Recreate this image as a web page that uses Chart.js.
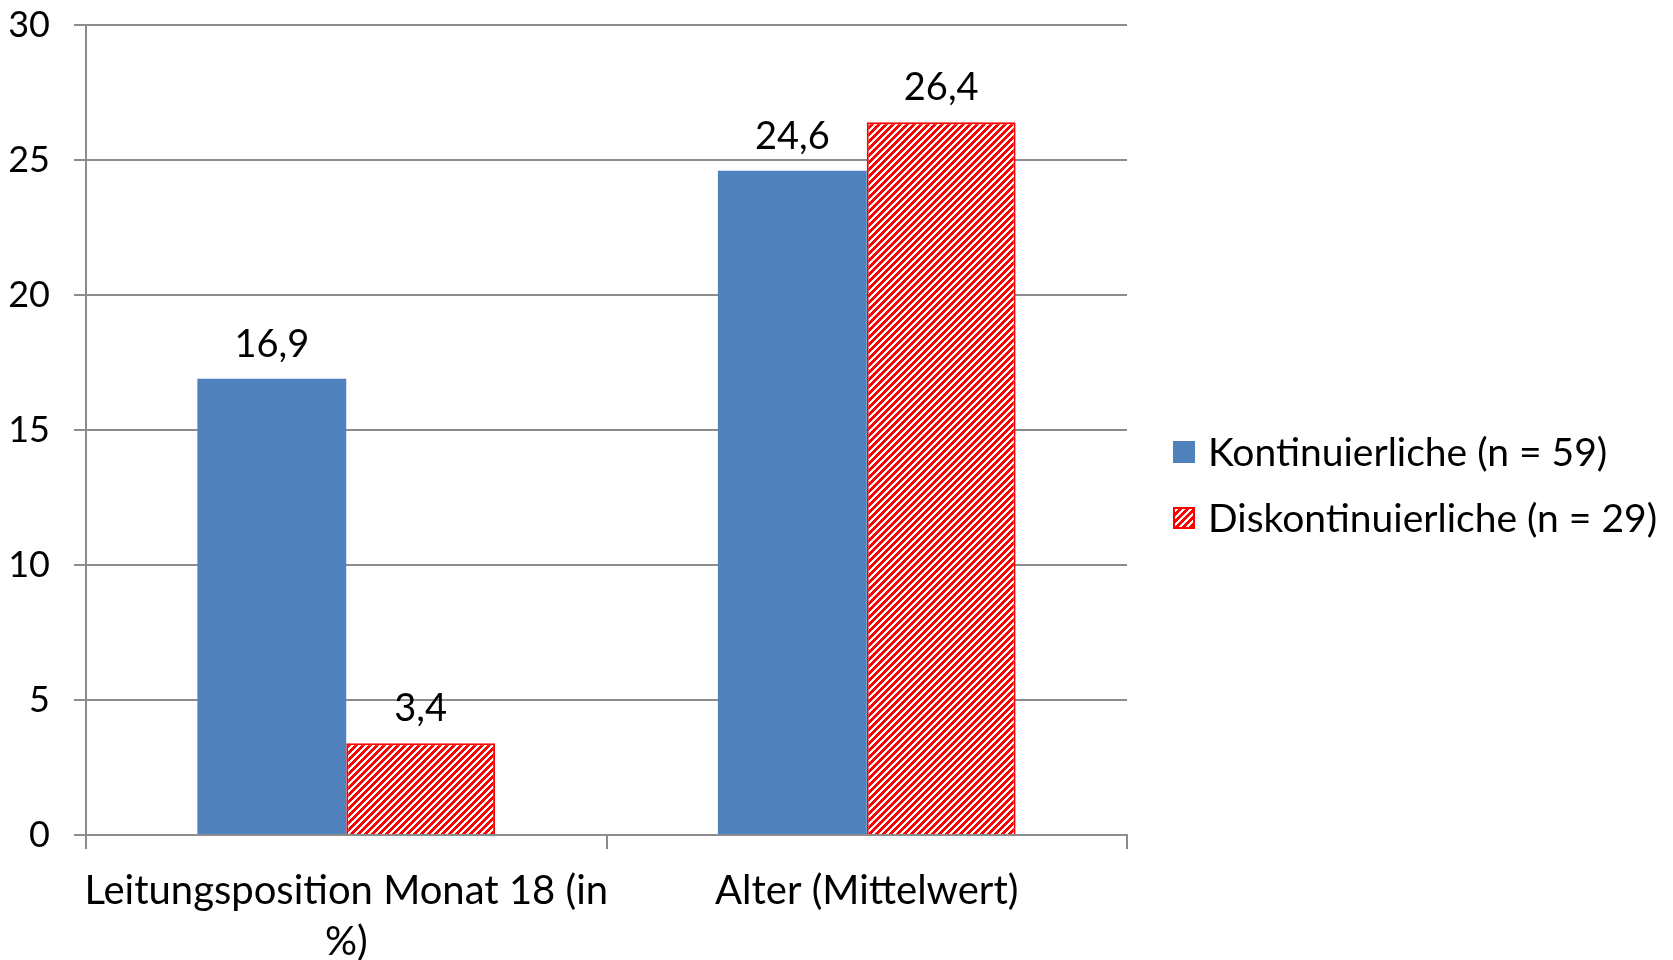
<!DOCTYPE html>
<html>
<head>
<meta charset="utf-8">
<script src="https://cdn.jsdelivr.net/npm/chart.js@4"></script>
<style>
  html, body { margin: 0; padding: 0; background: #fff; }
  #wrap { width: 1673px; height: 960px; }
</style>
</head>
<body>
<div id="wrap"><canvas id="barChart" width="1673" height="960"></canvas></div>
<script>
const categories = [['Leitungsposition Monat 18 (in', '%)'], 'Alter (Mittelwert)'];
const seriesNames = ['Kontinuierliche (n = 59)', 'Diskontinuierliche (n = 29)'];
const kontinuierliche = [16.9, 24.6];
const diskontinuierliche = [3.4, 26.4];
const yTicks = [0, 5, 10, 15, 20, 25, 30];

const FONT = 'Lato, "Open Sans", sans-serif';
const BLUE = '#4F81BD';
const RED = '#FF0000';
const GRID = '#8C8C8C';

// red "/" hatch like the Excel wide upward diagonal fill
function makeHatch() {
  const n = 7;
  const c = document.createElement('canvas');
  c.width = n; c.height = n;
  const g = c.getContext('2d');
  g.fillStyle = '#fff';
  g.fillRect(0, 0, n, n);
  g.fillStyle = RED;
  for (let y = 0; y < n; y++) {
    for (let x = 0; x < n; x++) {
      if ((x + y) % n < 4) g.fillRect(x, y, 1, 1);
    }
  }
  return document.getElementById('barChart').getContext('2d').createPattern(c, 'repeat');
}
const hatch = makeHatch();

// value labels above bars, German decimal comma
const valueLabels = {
  id: 'valueLabels',
  afterDatasetsDraw(chart) {
    const ctx = chart.ctx;
    ctx.save();
    ctx.font = '38px ' + FONT;
    ctx.fillStyle = '#000';
    ctx.textAlign = 'center';
    ctx.textBaseline = 'alphabetic';
    chart.data.datasets.forEach((ds, i) => {
      chart.getDatasetMeta(i).data.forEach((bar, j) => {
        const txt = ds.data[j].toFixed(1).replace('.', ',');
        ctx.fillText(txt, bar.x, bar.y - 22);
      });
    });
    ctx.restore();
  }
};

// legend on the right, placed like the original
const sideLegend = {
  id: 'sideLegend',
  afterDraw(chart) {
    const ctx = chart.ctx;
    const x = 1173, rows = [452, 518], box = 22;
    ctx.save();
    ctx.font = '39px ' + FONT;
    ctx.textBaseline = 'middle';
    chart.data.datasets.forEach((ds, i) => {
      const y = rows[i];
      ctx.fillStyle = ds.backgroundColor;
      ctx.fillRect(x, y - box / 2, box, box);
      if (ds.borderWidth) {
        ctx.strokeStyle = ds.borderColor;
        ctx.lineWidth = 2;
        ctx.strokeRect(x + 1, y - box / 2 + 1, box - 2, box - 2);
      }
      ctx.fillStyle = '#000';
      ctx.fillText(ds.label, x + 35, y + 1);
    });
    ctx.restore();
  }
};

new Chart(document.getElementById('barChart'), {
  type: 'bar',
  data: {
    labels: categories,
    datasets: [
      {
        label: seriesNames[0],
        data: kontinuierliche,
        backgroundColor: BLUE,
        borderWidth: 0
      },
      {
        label: seriesNames[1],
        data: diskontinuierliche,
        backgroundColor: hatch,
        borderColor: RED,
        borderWidth: 2
      }
    ]
  },
  options: {
    responsive: false,
    animation: false,
    layout: { padding: { top: 25, right: 546, left: 10, bottom: 0 } },
    categoryPercentage: 0.572,
    barPercentage: 1.0,
    plugins: {
      legend: { display: false },
      tooltip: { enabled: false }
    },
    scales: {
      x: {
        afterFit(axis) {
          axis.height = 125;
          axis.paddingLeft = 0;
          axis.paddingRight = 0;
        },
        grid: {
          offset: true,
          drawOnChartArea: false,
          color: GRID,
          lineWidth: 2,
          tickLength: 14
        },
        border: { display: true, color: GRID, width: 2 },
        ticks: {
          color: '#000',
          font: { family: FONT, size: 40, lineHeight: 1.28 },
          padding: 16,
          autoSkip: false,
          maxRotation: 0,
          minRotation: 0
        }
      },
      y: {
        min: 0,
        max: 30,
        afterBuildTicks(axis) { axis.ticks = yTicks.map(v => ({ value: v })); },
        afterFit(axis) {
          axis.width = 76;
          axis.paddingTop = 0;
          axis.paddingBottom = 0;
        },
        grid: { color: GRID, lineWidth: 2, tickLength: 12 },
        border: { display: true, color: GRID, width: 2 },
        ticks: {
          color: '#000',
          font: { family: FONT, size: 36 },
          padding: 24
        }
      }
    }
  },
  plugins: [valueLabels, sideLegend]
});
</script>
</body>
</html>
